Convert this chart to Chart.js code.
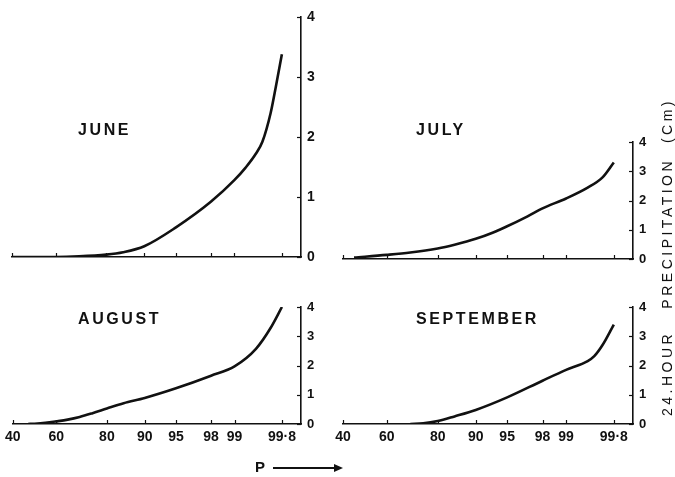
<!DOCTYPE html>
<html><head><meta charset="utf-8">
<script src="https://cdn.jsdelivr.net/npm/chart.js@4.4.0/dist/chart.umd.min.js"></script>
<style>
body{margin:0;background:#fff;width:675px;height:477px;overflow:hidden;position:relative;font-family:"Liberation Sans",Arial,sans-serif;color:#111;}
canvas{position:absolute;left:0;top:0;}
.t{position:absolute;font-weight:bold;font-size:16px;letter-spacing:2.6px;white-space:nowrap;line-height:1;}
.v{position:absolute;left:667px;top:257px;transform:translate(-50%,-50%) rotate(-90deg);font-size:14px;letter-spacing:3.5px;white-space:nowrap;line-height:1;}
.p{position:absolute;left:255px;top:459px;font-weight:bold;font-size:15px;line-height:1;}
.arr{position:absolute;left:273px;top:467px;width:64px;height:1.5px;background:#111;}
.arrh{position:absolute;left:334px;top:464px;width:0;height:0;border-left:9px solid #111;border-top:4px solid transparent;border-bottom:4px solid transparent;}
</style></head><body>
<canvas id="c1" width="675" height="477"></canvas>
<canvas id="c2" width="675" height="477"></canvas>
<canvas id="c3" width="675" height="477"></canvas>
<canvas id="c4" width="675" height="477"></canvas>
<div class="t" style="left:78px;top:122px">JUNE</div>
<div class="t" style="left:416px;top:122px">JULY</div>
<div class="t" style="left:78px;top:311px">AUGUST</div>
<div class="t" style="left:416px;top:311px">SEPTEMBER</div>
<div class="v">24.HOUR&nbsp;&nbsp; PRECIPITATION&nbsp; (Cm)</div>
<div class="p">P</div><div class="arr"></div><div class="arrh"></div>
<script>
// ---- data ----
const xTickValues = [40, 60, 80, 90, 95, 98, 99, 99.8];
const xTickLabels = ['40', '60', '80', '90', '95', '98', '99', '99·8'];
const yTickValues = [0, 1, 2, 3, 4];

const juneP = [40, 60, 70, 80, 85, 90, 95, 98, 99, 99.3, 99.5, 99.6, 99.7, 99.75, 99.8];
const juneV = [0, 0, 0.01, 0.04, 0.08, 0.18, 0.49, 0.92, 1.28, 1.49, 1.72, 1.92, 2.4, 2.83, 3.38];

const julyP = [45, 60, 70, 80, 85, 90, 93, 95, 97, 98, 99, 99.5, 99.7, 99.8];
const julyV = [0.05, 0.14, 0.22, 0.36, 0.49, 0.69, 0.9, 1.12, 1.46, 1.73, 2.07, 2.44, 2.79, 3.3];

const augP = [47, 50, 55, 60, 65, 70, 75, 80, 85, 90, 95, 98, 99, 99.5, 99.7, 99.8];
const augV = [0, 0.01, 0.04, 0.09, 0.15, 0.24, 0.37, 0.53, 0.71, 0.89, 1.22, 1.65, 1.97, 2.57, 3.29, 4.0];

const sepP = [70, 75, 80, 85, 90, 95, 98, 99, 99.5, 99.6, 99.7, 99.8];
const sepV = [0, 0.02, 0.1, 0.26, 0.48, 0.91, 1.48, 1.85, 2.15, 2.32, 2.7, 3.4];

// normal-probability axis transform (inverse normal CDF, Acklam)
function probit(pct) {
  const p = pct / 100;
  const a = [-3.969683028665376e+01, 2.209460984245205e+02, -2.759285104469687e+02, 1.383577518672690e+02, -3.066479806614716e+01, 2.506628277459239e+00];
  const b = [-5.447609879822406e+01, 1.615858368580409e+02, -1.556989798598866e+02, 6.680131188771972e+01, -1.328068155288572e+01];
  const c = [-7.784894002430293e-03, -3.223964580411365e-01, -2.400758277161838e+00, -2.549732539343734e+00, 4.374664141464968e+00, 2.938163982698783e+00];
  const d = [7.784695709041462e-03, 3.224671290700398e-01, 2.445134137142996e+00, 3.754408661907416e+00];
  const pl = 0.02425, ph = 1 - pl;
  let q, r;
  if (p < pl) { q = Math.sqrt(-2 * Math.log(p)); return (((((c[0]*q+c[1])*q+c[2])*q+c[3])*q+c[4])*q+c[5]) / ((((d[0]*q+d[1])*q+d[2])*q+d[3])*q+1); }
  if (p <= ph) { q = p - 0.5; r = q*q; return (((((a[0]*r+a[1])*r+a[2])*r+a[3])*r+a[4])*r+a[5])*q / (((((b[0]*r+b[1])*r+b[2])*r+b[3])*r+b[4])*r+1); }
  q = Math.sqrt(-2 * Math.log(1 - p)); return -(((((c[0]*q+c[1])*q+c[2])*q+c[3])*q+c[4])*q+c[5]) / ((((d[0]*q+d[1])*q+d[2])*q+d[3])*q+1);
}

const INK = '#111';
const FONT = '"Liberation Sans", Arial, sans-serif';
const inwardTicks = {
  id: 'inwardTicks',
  afterDraw(chart) {
    const { ctx, chartArea: a, scales: { x, y } } = chart;
    ctx.save(); ctx.strokeStyle = INK; ctx.lineWidth = 1.2;
    xTickValues.forEach(v => { const px = Math.round(x.getPixelForValue(probit(v))) + 0.5;
      ctx.beginPath(); ctx.moveTo(px, a.bottom); ctx.lineTo(px, a.bottom - 4); ctx.stroke(); });
    yTickValues.forEach(v => { const py = Math.round(y.getPixelForValue(v)) + 0.5;
      ctx.beginPath(); ctx.moveTo(a.right, py); ctx.lineTo(a.right - 4, py); ctx.stroke(); });
    ctx.restore();
  }
};

const W = 675, H = 477, YW = 26;
function make(id, P, V, L, R, T, B, showX, yFont) {
  const XH = showX ? 22 : 4;
  new Chart(document.getElementById(id), {
    type: 'line',
    data: { datasets: [{ data: P.map((p, i) => ({ x: probit(p), y: V[i] })),
      borderColor: INK, borderWidth: 2.6, pointRadius: 0, cubicInterpolationMode: 'monotone', fill: false }] },
    options: {
      responsive: false, animation: false,
      layout: { padding: { left: L, right: W - R - YW, top: T, bottom: H - B - XH } },
      plugins: { legend: { display: false }, tooltip: { enabled: false } },
      scales: {
        x: { type: 'linear', min: probit(40), max: 3.1,
          afterBuildTicks: s => { s.ticks = xTickValues.map(v => ({ value: probit(v) })); },
          afterFit: s => { s.height = XH; },
          grid: { drawOnChartArea: false, drawTicks: false },
          border: { color: INK, width: 1.5 },
          ticks: { display: showX, autoSkip: false, maxRotation: 0, padding: 5, color: INK,
            font: { family: FONT, size: 14, weight: 'bold' },
            callback: (val, i) => xTickLabels[i] } },
        y: { position: 'right', min: 0, max: 4,
          afterBuildTicks: s => { s.ticks = yTickValues.map(v => ({ value: v })); },
          afterFit: s => { s.width = YW; },
          grid: { drawOnChartArea: false, drawTicks: false },
          border: { color: INK, width: 1.6 },
          ticks: { padding: 6, color: INK, font: { family: FONT, size: yFont, weight: 'bold' },
            callback: v => String(v) } }
      }
    },
    plugins: [inwardTicks]
  });
}
make('c1', juneP, juneV, 12, 301, 17, 257, false, 14);
make('c2', julyP, julyV, 343, 633, 142, 259, false, 13);
make('c3', augP, augV, 12, 301, 307, 424, true, 13);
make('c4', sepP, sepV, 343, 633, 307, 424, true, 13);
</script>
</body></html>
